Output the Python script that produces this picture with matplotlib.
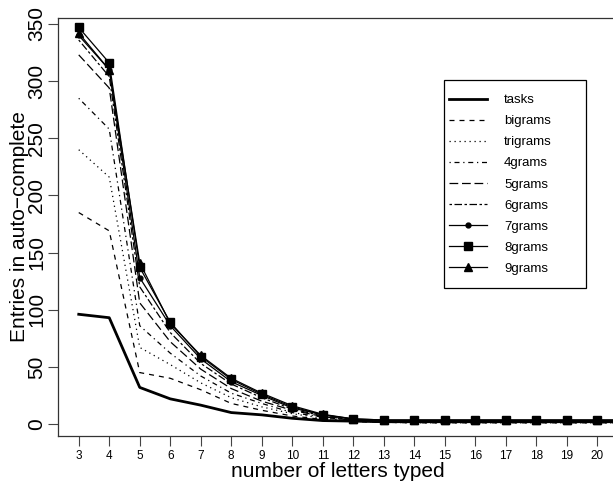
import numpy as np
import matplotlib
matplotlib.use("Agg")
import matplotlib.pyplot as plt
from matplotlib.patches import Rectangle

plt.rcParams['font.family'] = ['Liberation Sans', 'DejaVu Sans']

letters = list(range(3, 22))
xticks = list(range(3, 21))

tasks    = [96, 93, 32, 22, 16.5, 10, 8, 5, 3, 2.5, 2, 2, 2, 2, 2, 2, 2, 2, 2]
bigrams  = [185, 169, 45, 40, 30, 18, 12, 7, 4, 2, 1.5, 1, 1, 1, 1, 1, 1, 1, 1]
trigrams = [240, 216, 67, 52, 36, 23, 15, 9, 5, 2.5, 1.5, 1, 1, 1, 1, 1, 1, 1, 1]
grams4   = [285, 258, 86, 62, 42, 27, 18, 10, 6, 3, 2, 1.5, 1.5, 1.5, 1.5, 1.5, 1.5, 1.5, 1.5]
grams5   = [323, 294, 106, 72, 48, 31, 20, 12, 6.5, 3, 2, 2, 2, 2, 2, 2, 2, 2, 2]
grams6   = [336, 304, 120, 80, 53, 35, 23, 13, 7, 3.5, 2.5, 2.5, 2.5, 2.5, 2.5, 2.5, 2.5, 2.5, 2.5]
grams7   = [340, 310, 128, 86, 57, 37, 25, 14, 8, 4, 3, 3, 3, 3, 3, 3, 3, 3, 3]
grams8   = [347, 316, 137, 89, 59, 39, 26, 15, 8, 4.5, 3.5, 3.5, 3.5, 3.5, 3.5, 3.5, 3.5, 3.5, 3.5]
grams9   = [342, 310, 141, 88, 60, 40, 27, 16, 8.5, 4.5, 3.5, 3.5, 3.5, 3.5, 3.5, 3.5, 3.5, 3.5, 3.5]

yticks = [0, 50, 100, 150, 200, 250, 300, 350]

W, H = 613, 484
L, R, T, B = 58, 618, 18, 436
fig = plt.figure(figsize=(W / 100, H / 100), dpi=100)
# plot box ends a few pixels past the right edge of the picture, as in the original
ax = fig.add_axes([L / W, (H - B) / H, (R - L) / W, (B - T) / H])

lw = 0.9
ax.plot(letters, tasks, color='black', lw=2.0, label='tasks')
ax.plot(letters, bigrams, color='black', lw=lw, dashes=(4, 4), label='bigrams')
ax.plot(letters, trigrams, color='black', lw=lw, dashes=(1, 3), label='trigrams')
ax.plot(letters, grams4, color='black', lw=lw, dashes=(1, 3, 4, 3), label='4grams')
ax.plot(letters, grams5, color='black', lw=lw, dashes=(7, 3), label='5grams')
ax.plot(letters, grams6, color='black', lw=lw, dashes=(2, 2, 6, 2), label='6grams')
ax.plot(letters, grams7, color='black', lw=lw, marker='o', ms=3.5, label='7grams')
ax.plot(letters, grams8, color='black', lw=lw, marker='s', ms=5.5, label='8grams')
ax.plot(letters, grams9, color='black', lw=lw, marker='^', ms=5.5, label='9grams')

ax.set_xlim(2.32, 20.68)
ax.set_ylim(-10.5, 355.25)
ax.set_xticks(xticks)
ax.set_xticklabels([str(v) for v in xticks], fontsize=8.5)
ax.set_yticks(yticks)
ax.set_yticklabels([str(v) for v in yticks], fontsize=15, rotation=90, va='center')
ax.tick_params(direction='out', length=7, width=0.8, color='#444444')
ax.tick_params(axis='x', pad=3)
ax.tick_params(axis='y', pad=1.5)
for s in ax.spines.values():
    s.set_linewidth(0.9)
    s.set_color('#333333')

ax.set_xlabel('number of letters typed', fontsize=15)
ax.set_ylabel('Entries in auto\u2212complete', fontsize=15)
ax.xaxis.set_label_coords(0.5, -0.062)
ax.yaxis.set_label_coords(-0.052, 0.5)

leg = ax.legend(loc='upper left', bbox_to_anchor=(449 / W, 1 - 94 / H),
                bbox_transform=fig.transFigure, borderaxespad=0, borderpad=0,
                fontsize=9.5, handlelength=2.88, handletextpad=1.29,
                labelspacing=0.67, frameon=False)
fig.add_artist(Rectangle((444 / W, 1 - 288 / H), 142 / W, 208 / H,
                         transform=fig.transFigure, fill=False,
                         edgecolor='black', lw=0.9))

fig.savefig('out.png', dpi=100)
